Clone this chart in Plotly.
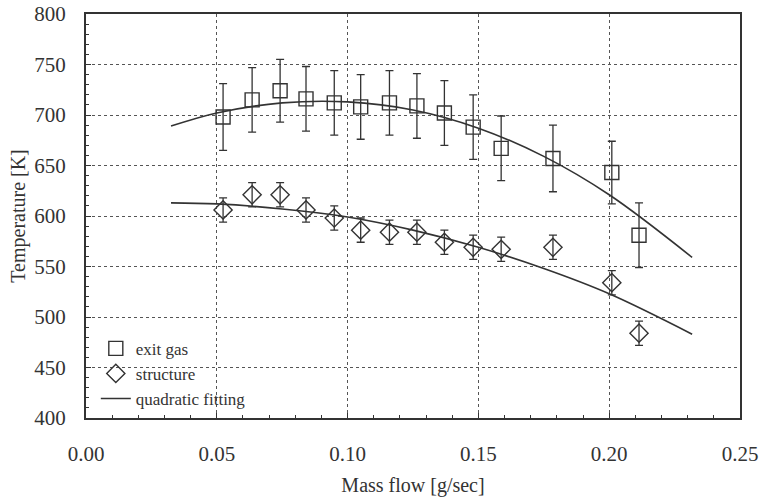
import plotly.graph_objects as go

# ---- data ----
mass_flow = [0.0524, 0.0635, 0.0742, 0.0841, 0.0949, 0.105, 0.116, 0.1265, 0.137, 0.148, 0.1587, 0.1785, 0.201, 0.2114]
exit_gas = [698, 715, 724, 716, 712, 708, 712, 709, 702, 688, 667, 657, 643, 581]
exit_gas_err = [33, 32, 31, 32, 32, 32, 32, 32, 32, 32, 32, 33, 31, 32]
structure = [606, 621, 621, 606, 598, 586, 584, 584, 574, 569, 567, 569, 534, 484]
structure_err = [12, 12, 12, 12, 12, 12, 12, 12, 12, 12, 12, 12, 12, 12]

fit_x = [0.0325, 0.05, 0.075, 0.10, 0.125, 0.15, 0.175, 0.20, 0.2317]
exit_gas_fit = [689, 702, 712, 713, 705, 687, 659, 621, 559]
structure_fit = [613, 612, 607, 599, 586, 569, 548, 523, 483]

x_ticks = [0.00, 0.05, 0.10, 0.15, 0.20, 0.25]
x_tick_labels = ["0.00", "0.05", "0.10", "0.15", "0.20", "0.25"]
y_ticks = [400, 450, 500, 550, 600, 650, 700, 750, 800]

INK = "#333333"
FONT = "Liberation Serif, Times New Roman, serif"

fig = go.Figure()

fig.add_trace(go.Scatter(
    x=mass_flow, y=exit_gas, mode="markers", name="exit gas",
    marker=dict(symbol="square-open", size=14, color=INK, line=dict(width=1.4, color=INK)),
    error_y=dict(type="data", array=exit_gas_err, visible=True, color=INK, thickness=1.3, width=4),
))
fig.add_trace(go.Scatter(
    x=mass_flow, y=structure, mode="markers", name="structure",
    marker=dict(symbol="diamond-open", size=14, color=INK, line=dict(width=1.4, color=INK)),
    error_y=dict(type="data", array=structure_err, visible=True, color=INK, thickness=1.3, width=4),
))
fig.add_trace(go.Scatter(
    x=fit_x, y=exit_gas_fit, mode="lines", name="quadratic fitting",
    line=dict(color=INK, width=1.6, shape="spline"),
))
fig.add_trace(go.Scatter(
    x=fit_x, y=structure_fit, mode="lines", name="quadratic fitting", showlegend=False,
    line=dict(color=INK, width=1.6, shape="spline"),
))

axis_common = dict(
    showline=True, linewidth=2, linecolor=INK, mirror=True,
    showgrid=True, gridcolor="#555555", gridwidth=1, griddash="dot",
    ticks="inside", ticklen=5, tickcolor=INK, tickwidth=1,
    zeroline=False,
    tickfont=dict(family=FONT, size=21, color=INK),
)

fig.update_xaxes(
    range=[0, 0.25], tickvals=x_ticks, ticktext=x_tick_labels,
    minor=dict(dtick=0.01, ticks="inside", ticklen=3, tickcolor=INK, showgrid=False),
    ticklabelstandoff=16,
    title=dict(text="Mass flow [g/sec]", font=dict(family=FONT, size=20, color=INK), standoff=16),
    **axis_common,
)
fig.update_yaxes(
    range=[400, 800], tickvals=y_ticks,
    minor=dict(dtick=10, ticks="inside", ticklen=3, tickcolor=INK, showgrid=False),
    ticklabelstandoff=14,
    title=dict(text="Temperature [K]", font=dict(family=FONT, size=20, color=INK), standoff=3),
    **axis_common,
)

fig.update_layout(
    width=760, height=497,
    margin=dict(l=86, r=20, t=14, b=79, autoexpand=False),
    paper_bgcolor="white", plot_bgcolor="white",
    showlegend=True,
    legend=dict(
        x=0.015, y=0.003, xanchor="left", yanchor="bottom",
        bgcolor="rgba(0,0,0,0)", borderwidth=0,
        font=dict(family=FONT, size=17, color=INK),
        itemwidth=30, tracegroupgap=0,
    ),
)

fig.write_html("out.html")
